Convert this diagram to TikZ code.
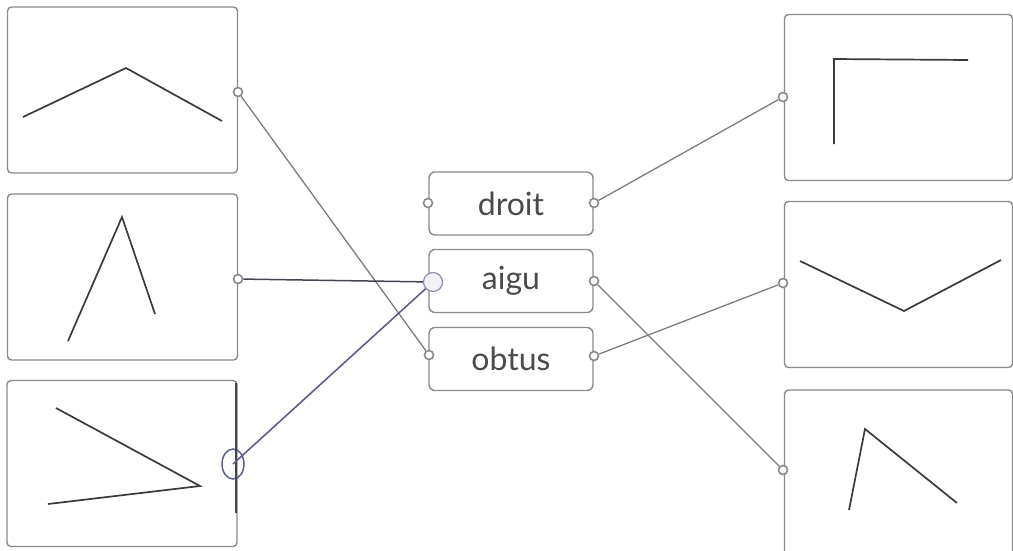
\documentclass[tikz,border=0pt]{standalone}
\usepackage{fontspec}
\setmainfont{Lato}
\usetikzlibrary{shapes.geometric}
\definecolor{boxgray}{HTML}{8A8A8A}
\definecolor{linkgray}{HTML}{7C7C7C}
\definecolor{inkdark}{HTML}{3A3A3A}
\definecolor{txtgray}{HTML}{4A4A4A}
\definecolor{penblue}{HTML}{5E5E8E}
\definecolor{pendark}{HTML}{444450}
\begin{document}
\begin{tikzpicture}[x=1pt,y=-1pt,
  card/.style={draw=boxgray, line width=1.4pt, rounded corners=4pt, rectangle, minimum width=230pt, minimum height=166pt, inner sep=0pt},
  rcard/.style={card, minimum width=228pt},
  lbl/.style={draw=boxgray, line width=1.4pt, rounded corners=6pt, rectangle, minimum width=164pt, minimum height=63pt, inner sep=0pt, font=\fontsize{32}{36}\selectfont, text=txtgray},
  port/.style={circle, draw=boxgray, line width=1.6pt, inner sep=0pt, minimum size=9pt, fill=white},
  link/.style={draw=linkgray, line width=1.3pt},
  angleline/.style={draw=inkdark, line width=1.7pt, line join=miter}]
\useasboundingbox (0,0) rectangle (1013,550);
% left cards
\node[card] (L1) at (122.5,90) {};
\node[card] (L2) at (122.5,277) {};
\node[card] (L3) at (122,463.5) {};
% right cards
\node[rcard] (R1) at (898.5,97.5) {};
\node[rcard] (R2) at (898.5,284.5) {};
\node[rcard] (R3) at (898.5,473) {};
% labels
\node[lbl] (droit) at (511,203.5) {droit};
\node[lbl] (aigu) at (511,281) {aigu};
\node[lbl] (obtus) at (511,359) {obtus};
% angle drawings
\draw[angleline] (23,117) -- (126,68) -- (222,121);
\draw[angleline] (68,341) -- (122,217) -- (155,314);
\draw[angleline] (56,408) -- (200,486) -- (48,504);
\draw[angleline] (834,144) -- (834,59) -- (968,60);
\draw[angleline] (800,261) -- (904,311) -- (1001,260);
\draw[angleline] (849,510) -- (865,429) -- (957,503);
% ports
\node[port] (pL1) at (238,92) {};
\node[port] (pL2) at (238,279) {};
\node[ellipse, draw=penblue, line width=1.5pt, inner sep=0pt, minimum width=22pt, minimum height=30pt] (pL3) at (233,464) {};
\node[port] (pDl) at (428,203) {};
\node[port] (pDr) at (594,203) {};
\node[circle, draw=penblue!70, fill=penblue!8, line width=1.2pt, inner sep=0pt, minimum size=19pt] (pAl) at (433,282) {};
\node[port] (pAr) at (594,281) {};
\node[port] (pOl) at (429,355) {};
\node[port] (pOr) at (594,356) {};
\node[port] (pR1) at (783,97) {};
\node[port] (pR2) at (783,283) {};
\node[port] (pR3) at (783,470) {};
% pen stroke on L3 right edge
\coordinate (penTop) at (236,383);
\coordinate (penBot) at (236,513);
\draw[draw=pendark, line width=1.6pt] (penTop) -- (penBot);
% connectors
\draw[link] (pL1) -- (pOl);
\draw[draw=pendark, line width=1.5pt] (pL2) -- (pAl);
\draw[draw=penblue, line width=1.6pt] (pL3.center) -- (pAl);
\draw[link] (pDr) -- (pR1);
\draw[link] (pAr) -- (pR3);
\draw[link] (pOr) -- (pR2);
\end{tikzpicture}
\end{document}
